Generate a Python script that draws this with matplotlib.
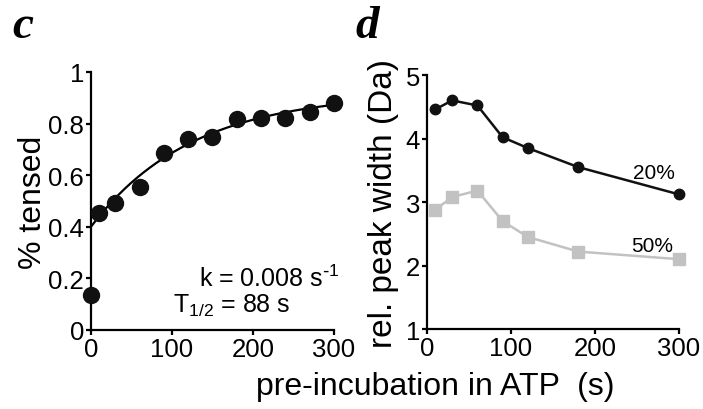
import numpy as np
import matplotlib.pyplot as plt

plt.rcParams['font.family'] = ['Liberation Sans', 'DejaVu Sans']

# panel c: fraction tensed vs pre-incubation time
t_c = [0, 10, 30, 60, 90, 120, 150, 180, 210, 240, 270, 300]
tensed = [0.137, 0.455, 0.494, 0.556, 0.685, 0.739, 0.748, 0.817, 0.823, 0.823, 0.846, 0.881]

# single-exponential fit (k from the panel annotation)
k_fit = 0.008
y0_fit = 0.40
ymax_fit = 0.92

# panel d: relative peak width
t_d = [10, 30, 60, 90, 120, 180, 300]
width_20 = [4.46, 4.60, 4.52, 4.02, 3.85, 3.55, 3.12]
width_50 = [2.88, 3.08, 3.18, 2.70, 2.45, 2.22, 2.10]

gray = '#c2c2c2'
fig = plt.figure(figsize=(7.03, 4.10), dpi=100)

# ---- panel c ----
ax1 = fig.add_axes([0.1294, 0.1927, 0.3457, 0.6293])
tt = np.linspace(0, 300, 200)
ax1.plot(tt, ymax_fit - (ymax_fit - y0_fit) * np.exp(-k_fit * tt), color='k', lw=1.6)
ax1.plot(t_c, tensed, 'o', color='#111111', ms=11.5, clip_on=False, zorder=5)
ax1.set_xlim(0, 300)
ax1.set_ylim(0, 1)
ax1.set_xticks([0, 100, 200, 300])
ax1.set_yticks([0, 0.2, 0.4, 0.6, 0.8, 1])
ax1.set_yticklabels(['0', '0.2', '0.4', '0.6', '0.8', '1'])
ax1.set_ylabel('% tensed', fontsize=23, labelpad=0)
ax1.text(307, 0.17, 'k = 0.008 s$^{\\text{-}\\mathregular{1}}$', ha='right', va='baseline', fontsize=18)
ax1.text(246, 0.07, 'T$_{\\mathregular{1/2}}$ = 88 s', ha='right', va='baseline', fontsize=18)

# ---- panel d ----
ax2 = fig.add_axes([0.6074, 0.195, 0.3585, 0.6196])
ax2.plot(t_d, width_20, '-o', color='#111111', lw=1.8, ms=7.5, clip_on=False, zorder=5)
ax2.plot(t_d, width_50, '-s', color=gray, lw=1.8, ms=8.5, clip_on=False, zorder=4)
ax2.set_xlim(0, 300)
ax2.set_ylim(1, 5)
ax2.set_xticks([0, 100, 200, 300])
ax2.set_yticks([1, 2, 3, 4, 5])
ax2.set_ylabel('rel. peak width (Da)', fontsize=24, labelpad=5)
ax2.text(295, 3.47, '20%', ha='right', va='center', fontsize=15)
ax2.text(293, 2.31, '50%', ha='right', va='center', fontsize=15)

for ax in (ax1, ax2):
    ax.spines['top'].set_visible(False)
    ax.spines['right'].set_visible(False)
    for s in ('left', 'bottom'):
        ax.spines[s].set_linewidth(1.6)
    ax.tick_params(direction='out', length=3.5, width=1.6, labelsize=18.5, pad=1.5)

fig.text(0.619, 0.037, 'pre-incubation in ATP  (s)', ha='center', va='baseline', fontsize=23)
fig.text(0.017, 0.907, 'c', fontsize=34, fontweight='bold', style='italic',
         family='Liberation Serif', va='baseline')
fig.text(0.505, 0.907, 'd', fontsize=34, fontweight='bold', style='italic',
         family='Liberation Serif', va='baseline')

fig.savefig('out.png', dpi=100)
